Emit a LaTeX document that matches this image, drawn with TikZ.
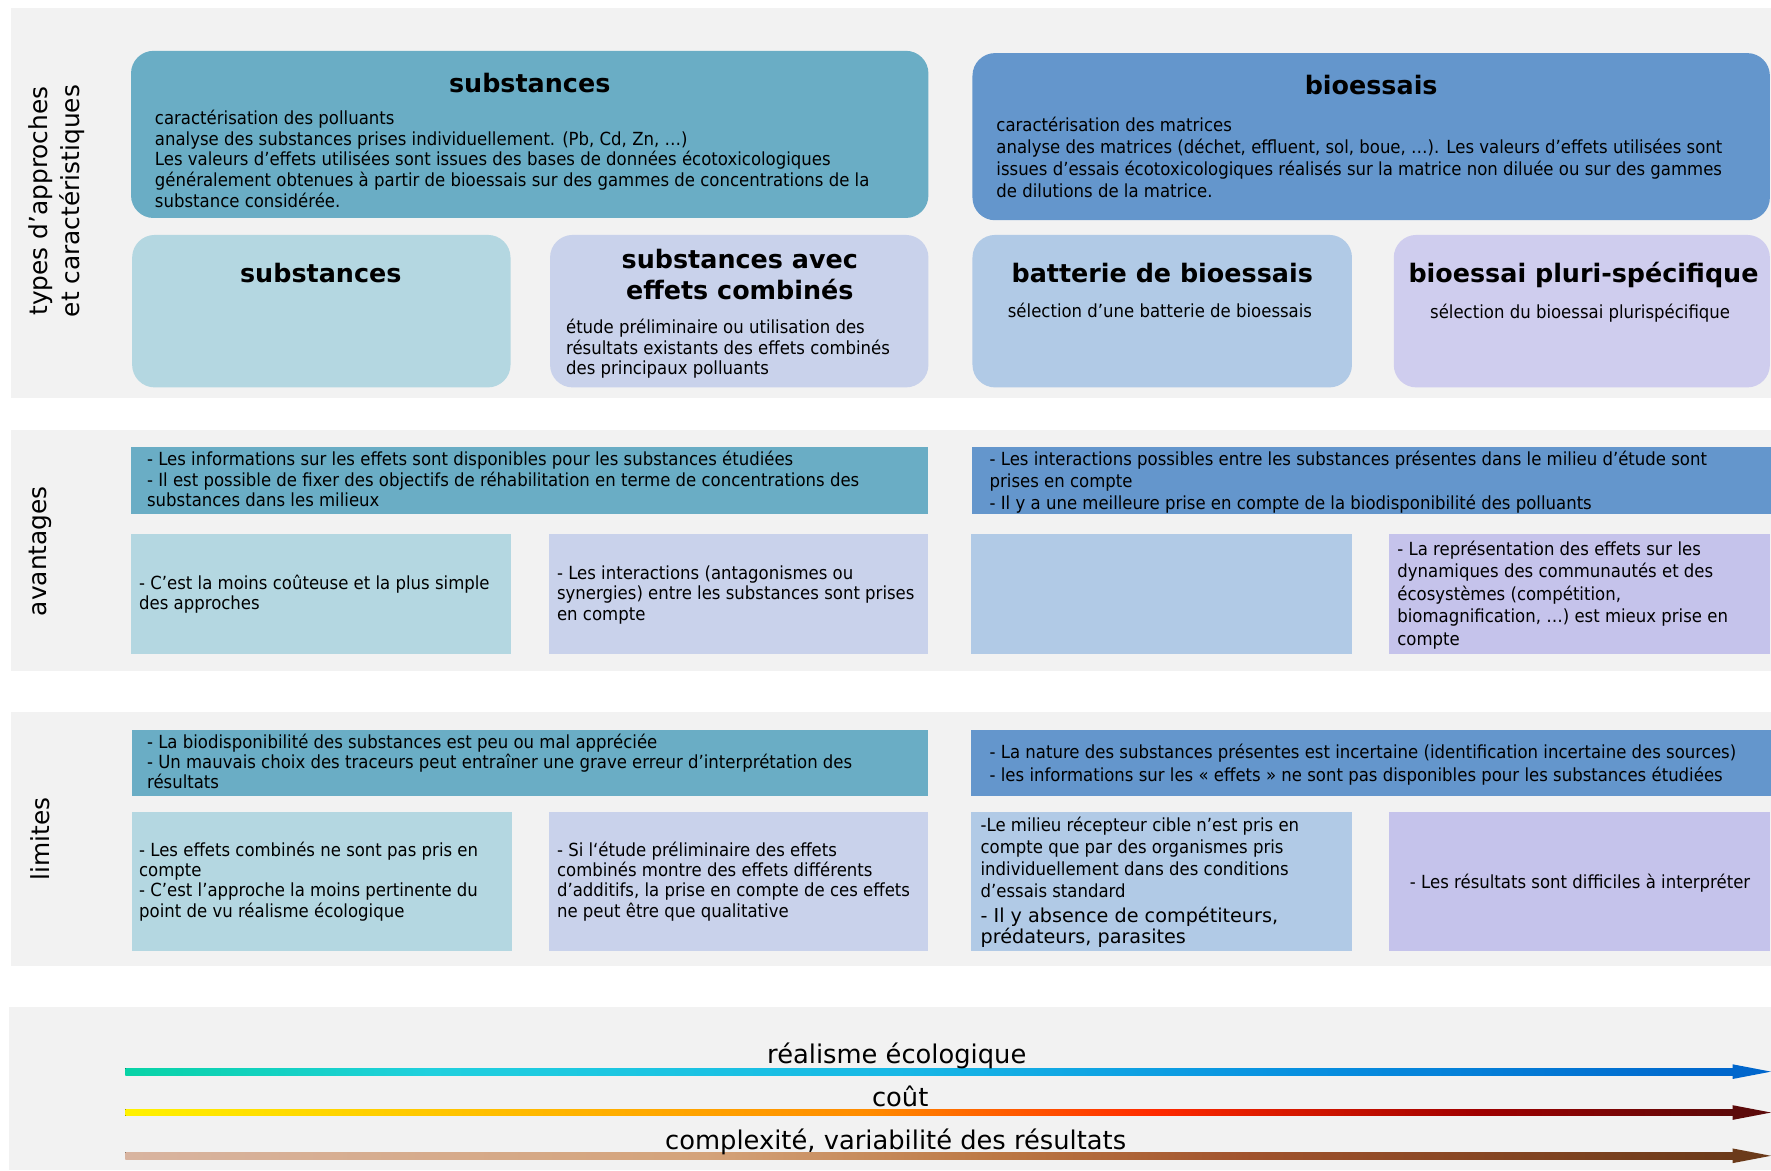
\documentclass[tikz,border=0pt]{standalone}
\usepackage{fontspec}
\setmainfont{DejaVu Sans}
\newfontfamily\tahoma[FakeStretch=0.915]{DejaVu Sans}
\definecolor{panelgray}{HTML}{F2F2F2}
\definecolor{subdark}{HTML}{6AADC5}
\definecolor{biodark}{HTML}{6496CC}
\definecolor{sublight}{HTML}{B4D7E1}
\definecolor{combolight}{HTML}{C9D2EB}
\definecolor{battlight}{HTML}{B1CAE6}
\definecolor{plurilight}{HTML}{CFCDEE}
\definecolor{pluriplain}{HTML}{C5C3EB}
\definecolor{realA}{HTML}{08D3A6}
\definecolor{realB}{HTML}{20D0DE}
\definecolor{realC}{HTML}{18B8E6}
\definecolor{realD}{HTML}{0890E0}
\definecolor{realE}{HTML}{0066CC}
\definecolor{costA}{HTML}{FFF200}
\definecolor{costB}{HTML}{FFC000}
\definecolor{costC}{HTML}{FF8C00}
\definecolor{costD}{HTML}{FF2A00}
\definecolor{costE}{HTML}{A00000}
\definecolor{costF}{HTML}{5C0A0A}
\definecolor{complA}{HTML}{D8B4A0}
\definecolor{complB}{HTML}{D4A37A}
\definecolor{complC}{HTML}{BC7844}
\definecolor{complD}{HTML}{A0522D}
\definecolor{complE}{HTML}{6B3A1A}
\pgfdeclarehorizontalshading{realshade}{100bp}{color(0bp)=(realA); color(25bp)=(realA); color(34.5bp)=(realB); color(49bp)=(realC); color(61.5bp)=(realD); color(75bp)=(realE); color(100bp)=(realE)}
\pgfdeclarehorizontalshading{costshade}{100bp}{color(0bp)=(costA); color(25bp)=(costA); color(36bp)=(costB); color(48bp)=(costC); color(57bp)=(costD); color(67bp)=(costE); color(75bp)=(costF); color(100bp)=(costF)}
\pgfdeclarehorizontalshading{complshade}{100bp}{color(0bp)=(complA); color(25bp)=(complA); color(43bp)=(complB); color(52bp)=(complC); color(60bp)=(complD); color(75bp)=(complE); color(100bp)=(complE)}
\tikzset{
	panel/.style={fill=panelgray},
	card/.style={rounded corners=20pt},
	body/.style={font=\tahoma\fontsize{16}{18.4}\selectfont, align=left, anchor=base west, inner sep=0pt},
	heading/.style={font=\bfseries\fontsize{22.5}{27}\selectfont, align=center, anchor=base, inner sep=0pt},
	side/.style={font=\fontsize{22}{28}\selectfont, rotate=90, align=center, inner sep=0pt},
	axislabel/.style={font=\fontsize{22.8}{26}\selectfont, anchor=base, inner sep=0pt}
}

\begin{document}
\begin{tikzpicture}[x=1pt, y=-1pt]
		\useasboundingbox[fill=white](0,0)rectangle(1568,1036);
		\fill[panel](10,7)rectangle(1568,352);
		\fill[panel](10,381)rectangle(1568,594);
		\fill[panel](10,630)rectangle(1568,855);
		\fill[panel](8,892)rectangle(1568,1036);
		\node[side](typesLabel)at(50,178){types d’approches\\et caractéristiques};
		\node[side](advLabel)at(36,488){avantages};
		\node[side](limLabel)at(36,743){limites};
		\fill[subdark, card](116,45)rectangle(822,193);
		\fill[biodark, card](861,47)rectangle(1567,195);
		\fill[sublight, card](117,208)rectangle(452,343);
		\fill[combolight, card](487,208)rectangle(822,343);
		\fill[battlight, card](861,208)rectangle(1197,343);
		\fill[plurilight, card](1234,208)rectangle(1567,343);
		\node[heading](subTitle)at(469,82){substances};
		\node[body](subText)at(137,183.6){caractérisation des polluants\\
			analyse des substances prises individuellement. (Pb, Cd, Zn, …)\\
			Les valeurs d’effets utilisées sont issues des bases de données écotoxicologiques\\
			généralement obtenues à partir de bioessais sur des gammes de concentrations de la\\
			substance considérée.};
		\node[heading](bioTitle)at(1214,84){bioessais};
		\node[body, font=\tahoma\fontsize{16}{19.6}\selectfont](bioText)at(882,175.3){caractérisation des matrices\\
			analyse des matrices (déchet, effluent, sol, boue, …). Les valeurs d’effets utilisées sont\\
			issues d’essais écotoxicologiques réalisés sur la matrice non diluée ou sur des gammes\\
			de dilutions de la matrice.};
		\node[heading](singleTitle)at(284,250){substances};
		\node[heading](comboTitle)at(655,265){substances avec\\effets combinés};
		\node[body, font=\tahoma\fontsize{16}{18}\selectfont](comboText)at(501,331.5){étude préliminaire ou utilisation des\\
			résultats existants des effets combinés\\
			des principaux polluants};
		\node[heading](battTitle)at(1029,250){batterie de bioessais};
		\node[body, anchor=base](battText)at(1027,281){sélection d’une batterie de bioessais};
		\node[heading](pluriTitle)at(1402,250){bioessai pluri-spécifique};
		\node[body, anchor=base](pluriText)at(1399,282){sélection du bioessai plurispécifique};
		\fill[subdark](116,396)rectangle(822,455);
		\fill[biodark](861,396)rectangle(1568,455);
		\fill[sublight](116,473)rectangle(452,579);
		\fill[combolight](486,473)rectangle(822,579);
		\fill[battlight](860,473)rectangle(1197,579);
		\fill[pluriplain](1230,473)rectangle(1567,579);
		\node[body, font=\tahoma\fontsize{16}{18}\selectfont](advSubStrip)at(130,448.5){- Les informations sur les effets sont disponibles pour les substances étudiées\\
			- Il est possible de fixer des objectifs de réhabilitation en terme de concentrations des\\
			substances dans les milieux};
		\node[body, font=\tahoma\fontsize{16}{19.6}\selectfont](advBioStrip)at(876,451.2){- Les interactions possibles entre les substances présentes dans le milieu d’étude sont\\
			prises en compte\\
			- Il y a une meilleure prise en compte de la biodisponibilité des polluants};
		\node[body, font=\tahoma\fontsize{16}{18}\selectfont](advSubBox)at(123,540){- C’est la moins coûteuse et la plus simple\\des approches};
		\node[body, font=\tahoma\fontsize{16}{18}\selectfont](advComboBox)at(493,549){- Les interactions (antagonismes ou\\
			synergies) entre les substances sont prises\\
			en compte};
		\node[body, font=\tahoma\fontsize{16}{19.9}\selectfont](advPluriBox)at(1237,571.1){- La représentation des effets sur les\\
			dynamiques des communautés et des\\
			écosystèmes (compétition,\\
			biomagnification, …) est mieux prise en\\
			compte};
		\fill[subdark](117,646)rectangle(822,705);
		\fill[biodark](860,646)rectangle(1568,705);
		\fill[sublight](117,719)rectangle(453,842);
		\fill[combolight](486,719)rectangle(822,842);
		\fill[battlight](860,719)rectangle(1197,842);
		\fill[pluriplain](1230,719)rectangle(1567,842);
		\node[body, font=\tahoma\fontsize{16}{17.8}\selectfont](limSubStrip)at(130,698.1){- La biodisponibilité des substances est peu ou mal appréciée\\
			- Un mauvais choix des traceurs peut entraîner une grave erreur d’interprétation des\\
			résultats};
		\node[body, font=\tahoma\fontsize{16}{20}\selectfont](limBioStrip)at(876,691.5){- La nature des substances présentes est incertaine (identification incertaine des sources)\\
			- les informations sur les « effets » ne sont pas disponibles pour les substances étudiées};
		\node[body, font=\tahoma\fontsize{16}{17.8}\selectfont](limSubBox)at(123,811.9){- Les effets combinés ne sont pas pris en\\
			compte\\
			- C’est l’approche la moins pertinente du\\
			point de vu réalisme écologique};
		\node[body, font=\tahoma\fontsize{16}{17.8}\selectfont](limComboBox)at(493,811.9){- Si l‘étude préliminaire des effets\\
			combinés montre des effets différents\\
			d’additifs, la prise en compte de ces effets\\
			ne peut être que qualitative};
		\node[body, font=\tahoma\fontsize{16}{19.6}\selectfont](limBattBox)at(868,794.8){-Le milieu récepteur cible n’est pris en\\
			compte que par des organismes pris\\
			individuellement dans des conditions\\
			d’essais standard};
		\node[body, font=\fontsize{17}{19.2}\selectfont](limBattMore)at(868,835.7){- Il y absence de compétiteurs,\\prédateurs, parasites};
		\node[body, anchor=base](limPluriBox)at(1399,786.5){- Les résultats sont difficiles à interpréter};
		\coordinate(realStart)at(111,948.8);
		\coordinate(realTip)at(1568,948.8);
		\fill[shading=realshade](111,945.8)rectangle(1536,951.8);
		\fill[realE](1534,942.3)--(realTip)--(1534,955.3)--cycle;
		\node[axislabel](realLabel)at(794,941.5){réalisme écologique};
		\coordinate(costStart)at(111,985);
		\coordinate(costTip)at(1568,985);
		\fill[shading=costshade](111,982)rectangle(1536,988);
		\fill[costF](1534,978.5)--(costTip)--(1534,991.5)--cycle;
		\node[axislabel](costLabel)at(797,979.5){coût};
		\coordinate(complStart)at(111,1023.3);
		\coordinate(complTip)at(1568,1023.3);
		\fill[shading=complshade](111,1020.3)rectangle(1536,1026.3);
		\fill[complE](1534,1016.8)--(complTip)--(1534,1029.8)--cycle;
		\node[axislabel](complLabel)at(793,1018){complexité, variabilité des résultats};
	\end{tikzpicture}
\end{document}
